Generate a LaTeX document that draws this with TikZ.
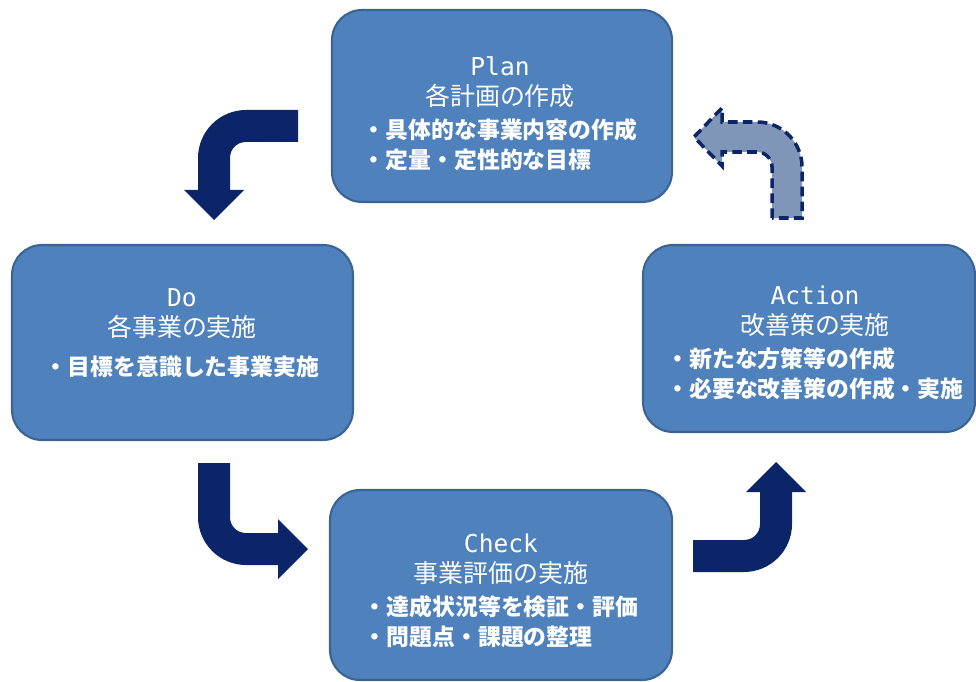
\documentclass[tikz,border=0pt]{standalone}
\usepackage{tikz}
\usepackage{fontspec}
\setmainfont{Noto Sans CJK JP}
\newfontfamily\latinmono{DejaVu Sans Mono}
\definecolor{boxblue}{HTML}{4F81BD}
\definecolor{boxedge}{HTML}{3A6494}
\definecolor{navy}{HTML}{0C2468}
\definecolor{greyblue}{HTML}{8096B8}
\newcommand{\boxtitle}[2]{{\fontsize{14}{17}\selectfont\latinmono #1}\\{\fontsize{14.2}{17}\selectfont #2}\\[5pt]}
\begin{document}
\begin{tikzpicture}[x=0.02cm,y=-0.02cm,
    box/.style={draw=boxedge,line width=1.2pt,fill=boxblue,rounded corners=0.6cm,inner sep=0pt},
    txt/.style={text=white,align=center,inner sep=0pt,font=\fontsize{13}{17}\selectfont},
    turn/.style={fill=navy},
    back/.style={fill=greyblue,draw=navy,line width=2pt,dash pattern=on 5.5pt off 3pt}]
    \useasboundingbox (0,0) rectangle (976,682);
    % boxes
    \node[box,minimum width=6.8cm,minimum height=3.84cm] (plan) at (502,106) {};
    \node[box,minimum width=6.82cm,minimum height=3.9cm] (do) at (182.5,342.5) {};
    \node[box,minimum width=6.84cm,minimum height=3.8cm] (check) at (501,585) {};
    \node[box,minimum width=6.64cm,minimum height=3.74cm] (action) at (809,338.5) {};
    % texts
    \node[txt] (plantext) at (500,117) {\boxtitle{Plan}{各計画の作成}
        \begin{tabular}{@{}l@{}}\bfseries ・具体的な事業内容の作成\\ \bfseries ・定量・定性的な目標\end{tabular}};
    \node[txt] (dotext) at (182,333) {\boxtitle{Do}{各事業の実施}
        \bfseries ・目標を意識した事業実施};
    \node[txt] (checktext) at (501,594) {\boxtitle{Check}{事業評価の実施}
        \begin{tabular}{@{}l@{}}\bfseries ・達成状況等を検証・評価\\ \bfseries ・問題点・課題の整理\end{tabular}};
    \node[txt] (actiontext) at (815,346) {\boxtitle{Action}{改善策の実施}
        \begin{tabular}{@{}l@{}}\bfseries ・新たな方策等の作成\\ \bfseries ・必要な改善策の作成・実施\end{tabular}};
    % bent arrows
    \fill[turn] (298,110) -- (246,110) .. controls (219.5,110) and (198,131.5) .. (198,158)
        -- (198,190) -- (184,190) -- (214,220) -- (244,190) -- (230,190) -- (230,158)
        .. controls (230,149) and (237,142) .. (246,142) -- (298,142) -- cycle;
    \fill[turn] (198,463) -- (198,517) .. controls (198,543.5) and (219.5,565) .. (246,565)
        -- (278,565) -- (278,579) -- (308,549) -- (278,519) -- (278,533) -- (246,533)
        .. controls (237,533) and (230,526) .. (230,517) -- (230,463) -- cycle;
    \fill[turn] (693,540) -- (744,540) .. controls (753,540) and (760,533) .. (760,524)
        -- (760,492) -- (746,492) -- (776,462) -- (806,492) -- (792,492) -- (792,524)
        .. controls (792,550.5) and (770.5,572) .. (744,572) -- (693,572) -- cycle;
    \draw[back] (772,218) -- (772,167) .. controls (772,158.7) and (765.3,152) .. (757,152)
        -- (722,152) -- (722,166) -- (694,137) -- (722,108) -- (722,122) -- (757,122)
        .. controls (781.9,122) and (802,142.1) .. (802,167) -- (802,218) -- cycle;
\end{tikzpicture}
\end{document}
